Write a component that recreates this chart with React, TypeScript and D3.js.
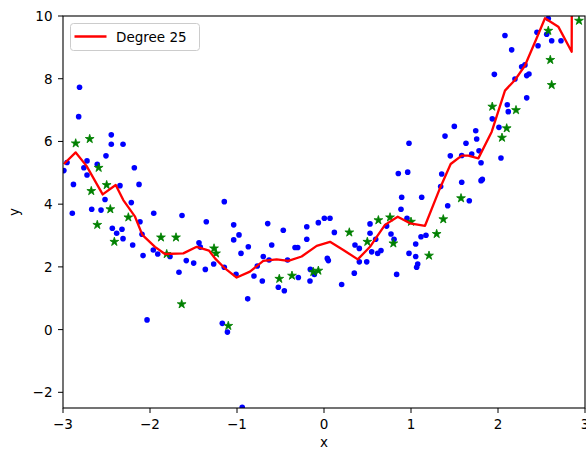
import React from "react";
import * as d3 from "d3";

const blueX = [-2.81,-2.82,-2.445,-2.445,-2.31,-2.506,-2.724,-2.954,-2.99,-2.76,-2.606,-2.724,-2.18,-2.88,-2.345,-2.126,-2.517,-2.215,-2.67,-2.563,-1.146,
-2.893,-2.433,-2.383,-2.322,-2.31,-2.199,-2.115,-2.092,-2.08,-1.957,-1.962,-1.911,-1.77,-1.632,-1.667,-1.583,-1.498,-1.353,-1.437,-1.422,-1.364,-1.268,-1.146,-1.038,-1.038,-2.034,-1.169,-1.11,-0.94,
-0.977,-0.954,-0.87,-1.011,-0.805,-0.767,-0.709,-0.698,-0.647,-0.632,-0.601,-0.877,-0.525,-0.456,-0.468,-0.333,-0.302,-0.419,-0.295,-0.198,-0.198,-0.157,-0.161,-0.111,-0.065,0.004,0.069,0.038,0.05,0.119,0.203,0.348,0.356,0.406,0.406,0.491,0.529,0.529,0.548,0.594,0.617,0.655,0.72,0.77,0.805,0.835,0.885,0.954,0.977,
0.977,0.854,0.962,0.893,
1.123,1.391,1.498,1.353,1.452,1.583,1.632,1.744,1.755,1.698,1.782,1.805,1.805,1.82,1.583,1.341,1.422,1.67,2.034,1.934,2.011,2.107,2.118,1.958,2.08,2.157,2.195,2.272,2.31,2.33,2.356,2.33,2.448,2.46,2.578,2.56,2.617,2.724,
1.115,1.172,1.054,1.054,1.077,1.065];
const blueY = [7.73,6.79,6.21,5.91,5.91,5.54,5.38,5.33,5.07,5.16,5.27,4.93,5.16,4.63,4.59,4.63,4.15,4.05,3.84,3.81,4.08,
3.71,3.23,3.07,3.2,2.9,2.7,3.44,3.04,2.36,3.71,2.54,2.41,2.33,3.64,1.83,2.2,2.12,3.44,2.77,2.63,1.92,2.09,1.99,3.34,2.86,0.31,0.2,-0.08,-2.48,
3.02,2.43,2.64,1.76,1.71,2.03,1.55,2.33,3.38,2.22,2.7,0.98,1.35,1.24,3.17,2.62,2.62,2.22,1.66,3.28,2.88,1.92,1.55,1.76,3.41,3.55,3.55,2.27,2.2,3.1,1.44,1.8,2.7,2.59,2.16,2.16,3.37,3.07,2.48,2.88,2.43,2.52,3.3,3.05,2.88,1.76,3.84,3.55,2.43,
5.94,4.98,5.02,4.22,
4.22,6.17,6.48,4.96,5.54,5.55,5.94,6.34,6.08,5.6,5.7,5.32,4.75,4.79,4.7,4.56,3.95,4.11,5.47,6.72,6.45,7.17,6.95,8.14,9.38,8.92,7.99,8.38,8.44,8.1,8.15,7.39,9.48,9.05,9.92,9.42,9.21,9.21,
2.96,3.01,2.73,2.33,2.09,1.99];

const greenX = [-2.854,-2.693,-2.59,-2.675,-2.498,-2.456,-2.606,-2.249,-2.41,-1.874,-1.701,-1.808,-1.264,-1.241,-1.636,-1.1,-0.514,-0.368,-0.123,-0.065,0.291,0.498,0.625,0.759,0.797,1.0,1.371,1.295,1.207,1.575,1.934,2.207,2.1,2.046,2.578,2.601,2.617,2.931];
const greenY = [5.94,6.08,5.16,4.42,4.61,3.84,3.34,3.58,2.8,2.94,2.94,2.41,2.59,2.43,0.81,0.12,1.62,1.72,1.84,1.88,3.1,2.8,3.49,3.58,2.75,3.44,3.52,3.05,2.36,4.19,7.11,7.0,6.42,6.12,9.53,8.6,7.8,9.85];

const lineX = [-2.99,-2.854,-2.73,-2.544,-2.394,-2.307,-2.172,-2.088,-1.943,-1.828,-1.617,-1.463,-1.322,-1.253,-1.138,-1.004,-0.851,-0.698,-0.544,-0.41,-0.257,-0.084,0.069,0.222,0.388,0.529,0.606,0.701,0.847,0.989,1.161,1.333,1.456,1.583,1.659,1.774,1.928,2.08,2.195,2.31,2.444,2.54,2.693,2.847,2.85];
const lineY = [5.28,5.65,5.22,4.31,4.61,4.13,3.6,3.02,2.64,2.41,2.43,2.64,2.52,2.27,1.95,1.66,1.85,2.19,2.24,2.19,2.33,2.67,2.8,2.54,2.24,2.64,2.96,3.34,3.6,3.39,3.31,4.51,5.28,5.55,5.55,5.46,6.31,7.62,7.96,8.42,9.29,9.93,9.66,8.86,12];

const xTicks = [-3, -2, -1, 0, 1, 2, 3];
const yTicks = [-2, 0, 2, 4, 6, 8, 10];
const legendLabel = "Degree 25";

export default function App() {
  const W = 586, H = 451;
  const L = 63, R = 585, T = 16, B = 408;
  const x = d3.scaleLinear().domain([-3, 3]).range([L, R]);
  const y = d3.scaleLinear().domain([-2.5, 10]).range([B, T]);
  const line = d3.line<number>().x((d) => x(lineX[d])).y((d) => y(lineY[d]));
  const star = d3.symbol().type(d3.symbolStar).size(24)();
  const font = "'DejaVu Sans', sans-serif";
  return (
    <svg width={W} height={H} style={{ position: "absolute", left: 0, top: 0, background: "#fff" }} fontFamily={font}>
      <defs>
        <clipPath id="plotclip">
          <rect x={L} y={T} width={R - L} height={B - T} />
        </clipPath>
      </defs>
      <g clipPath="url(#plotclip)">
        {blueX.map((v, i) => (
          <circle key={"b" + i} cx={x(v)} cy={y(blueY[i])} r={2.8} fill="#0000ff" />
        ))}
        {greenX.map((v, i) => (
          <path key={"g" + i} d={star!} transform={`translate(${x(v)},${y(greenY[i])})`} fill="#008000" stroke="#008000" strokeWidth={0.8} />
        ))}
        <path d={line(lineX.map((_, i) => i))!} fill="none" stroke="#ff0000" strokeWidth={2.3} strokeLinejoin="round" />
      </g>
      <rect x={L} y={T} width={R - L} height={B - T} fill="none" stroke="#000" strokeWidth={1.1} />
      {xTicks.map((t) => (
        <g key={"xt" + t}>
          <line x1={x(t)} x2={x(t)} y1={B} y2={B + 5} stroke="#000" strokeWidth={1} />
          <text x={x(t)} y={B + 21} textAnchor="middle" fontSize={13.5} fill="#000">{t < 0 ? "\u2212" + Math.abs(t) : String(t)}</text>
        </g>
      ))}
      {yTicks.map((t) => (
        <g key={"yt" + t}>
          <line x1={L - 5} x2={L} y1={y(t)} y2={y(t)} stroke="#000" strokeWidth={1} />
          <text x={L - 10.5} y={y(t) + 5} textAnchor="end" fontSize={13.5} fill="#000">{t < 0 ? "\u2212" + Math.abs(t) : String(t)}</text>
        </g>
      ))}
      <text x={(L + R) / 2} y={447} textAnchor="middle" fontSize={13.5} fill="#000">x</text>
      <text transform={`translate(19,${(T + B) / 2}) rotate(-90)`} textAnchor="middle" fontSize={13.5} fill="#000">y</text>
      <g>
        <rect x={70.5} y={23.5} width={129} height={27} rx={3} fill="#fff" fillOpacity={0.8} stroke="#cccccc" strokeWidth={1} />
        <line x1={74.5} x2={106.5} y1={36.5} y2={36.5} stroke="#ff0000" strokeWidth={2.3} />
        <text x={116} y={41.5} fontSize={13.5} fill="#000">{legendLabel}</text>
      </g>
    </svg>
  );
}
